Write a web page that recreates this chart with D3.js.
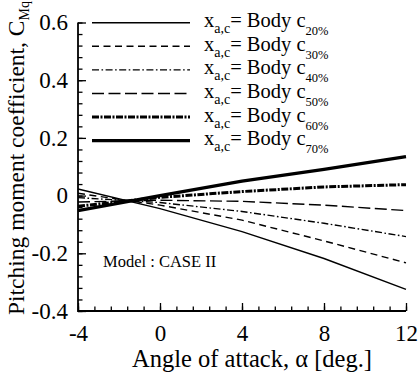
<!DOCTYPE html>
<html>
<head>
<meta charset="utf-8">
<script src="https://d3js.org/d3.v7.min.js"></script>
<style>
  html, body { margin: 0; padding: 0; background: #fff; }
  svg { display: block; }
</style>
</head>
<body>
<svg id="chart" width="419" height="378"></svg>
<script>
// Angle of attack (deg.)
const alpha = [-4, 0, 4, 8, 12];

// Aerodynamic-centre positions along the body chord
const positions = ["20%", "30%", "40%", "50%", "60%", "70%"];

// Pitching moment coefficient C_Mq for each aerodynamic-centre position
const cmq20 = [0.023, -0.045, -0.125, -0.218, -0.325];
const cmq30 = [0.008, -0.033, -0.085, -0.157, -0.233];
const cmq40 = [-0.007, -0.024, -0.055, -0.096, -0.142];
const cmq50 = [-0.022, -0.016, -0.020, -0.033, -0.052];
const cmq60 = [-0.037, -0.006, 0.014, 0.030, 0.038];
const cmq70 = [-0.052, 0.000, 0.050, 0.091, 0.135];

// Tick labels
const xTicks = [-4, 0, 4, 8, 12];
const yTicks = [-0.4, -0.2, 0, 0.2, 0.4, 0.6];

const seriesValues = [cmq20, cmq30, cmq40, cmq50, cmq60, cmq70];

// Line style per series
const styles = [
  { width: 1.4, dash: null },
  { width: 1.4, dash: "7,4.5" },
  { width: 1.4, dash: "7,2.5,1.6,2.5" },
  { width: 1.4, dash: "12,4.5" },
  { width: 3.0, dash: "7,1.5,2,1.5" },
  { width: 3.2, dash: null }
];

const SERIF = "Liberation Serif";

const svg = d3.select("#chart");

const x = d3.scaleLinear().domain([-4, 12]).range([78, 406]);
const y = d3.scaleLinear().domain([-0.4, 0.6]).range([311, 22.5]);

// Minor ticks between the labelled ones
const xMinor = d3.range(-4, 12.0001, 0.8);
const yMinor = d3.range(-0.4, 0.6001, 0.04);

const fmtY = d => (Math.abs(d) < 1e-9 ? "0" : d.toFixed(1));

// Ticks point inward
svg.append("g").attr("transform", `translate(0,${y.range()[0]})`)
  .call(d3.axisBottom(x).tickValues(xMinor).tickSize(-4.5).tickFormat(""));
svg.append("g").attr("transform", `translate(0,${y.range()[0]})`)
  .call(d3.axisBottom(x).tickValues(xTicks).tickSize(-8).tickPadding(14)
    .tickFormat(d => String(d)));

svg.append("g").attr("transform", `translate(${x.range()[0]},0)`)
  .call(d3.axisLeft(y).tickValues(yMinor).tickSize(-4.5).tickFormat(""));
svg.append("g").attr("transform", `translate(${x.range()[0]},0)`)
  .call(d3.axisLeft(y).tickValues(yTicks).tickSize(-8).tickPadding(10).tickFormat(fmtY));

svg.selectAll(".domain").remove();
svg.selectAll(".tick line").attr("stroke", "#000").attr("stroke-width", 1.3);
svg.selectAll(".tick text")
  .style("font-family", SERIF).style("font-size", "23px").attr("fill", "#000");

// Axis lines (left and bottom only)
svg.append("path")
  .attr("d", `M${x.range()[0]},${y.range()[1]}V${y.range()[0]}H${x.range()[1]}`)
  .attr("fill", "none").attr("stroke", "#000").attr("stroke-width", 1.8);

// Series lines
const line = d3.line().x((d, i) => x(alpha[i])).y(d => y(d));
const plot = svg.append("g");
seriesValues.forEach((vals, k) => {
  plot.append("path")
    .attr("d", line(vals))
    .attr("fill", "none")
    .attr("stroke", "#000")
    .attr("stroke-width", styles[k].width)
    .attr("stroke-dasharray", styles[k].dash);
});

// Legend
const legend = svg.append("g");
const legendY = d3.scaleLinear().domain([0, 5]).range([22.7, 140.7]);
positions.forEach((p, k) => {
  const ly = legendY(k);
  legend.append("line")
    .attr("x1", 92).attr("x2", 190).attr("y1", ly).attr("y2", ly)
    .attr("stroke", "#000")
    .attr("stroke-width", styles[k].width)
    .attr("stroke-dasharray", styles[k].dash);
  const t = legend.append("text")
    .attr("x", 204).attr("y", ly + 4.5)
    .style("font-family", SERIF).style("font-size", "20.5px")
    .attr("fill", "#000");
  t.append("tspan").text("x");
  t.append("tspan").style("font-size", "14px").attr("dy", 6).text("a,c");
  t.append("tspan").attr("dy", -6).text("= Body c");
  t.append("tspan").style("font-size", "12.5px").attr("dy", 8).text(p);
});

// Annotation
svg.append("text")
  .attr("x", 103).attr("y", 267)
  .style("font-family", SERIF).style("font-size", "16.5px")
  .attr("fill", "#000")
  .text("Model : CASE II");

// Axis titles
svg.append("text")
  .attr("x", 252).attr("y", 367)
  .attr("text-anchor", "middle")
  .style("font-family", SERIF).style("font-size", "24.5px")
  .attr("fill", "#000")
  .text("Angle of attack, \u03B1 [deg.]");

const yt = svg.append("text")
  .attr("transform", "translate(24,158) rotate(-90)")
  .attr("text-anchor", "middle")
  .style("font-family", SERIF).style("font-size", "23.5px")
  .attr("fill", "#000");
yt.append("tspan").text("Pitching moment coefficient, C");
yt.append("tspan").style("font-size", "14px").attr("dy", 5).text("Mq");
</script>
</body>
</html>
